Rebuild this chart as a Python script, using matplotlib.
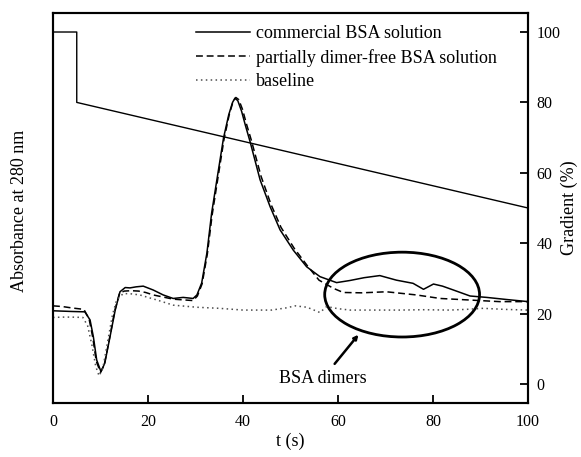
import matplotlib
matplotlib.use("Agg")
import matplotlib.pyplot as plt
from matplotlib.patches import Ellipse

plt.rcParams["font.family"] = ["Liberation Serif", "DejaVu Serif"]
plt.rcParams["font.size"] = 13

# absorbance traces (arbitrary units, plotted on the same scale as the gradient axis)
t_com = [0, 2, 4, 6.7, 7.8, 8.5, 9.2, 10.1, 10.9, 12.0, 13.1, 14.1, 15.2, 16.2, 17.5, 19.0,
         21.1, 23.2, 25.3, 27.4, 29.5, 30.3, 31.3, 32.4, 33.4, 34.5, 35.9, 37.0, 37.8, 38.3,
         38.9, 39.7, 40.5, 41.5, 43.6, 45.7, 47.8, 50.6, 53.4, 56.2, 59.7, 62.5, 65.5, 68.8,
         72.3, 75.8, 78.0, 80.1, 82.0, 84.3, 87.8, 91.3, 95.5, 100]
a_com = [20.8, 20.7, 20.6, 20.5, 18.2, 13.4, 6.8, 3.5, 5.9, 13.4, 21.0, 26.2, 27.4, 27.3, 27.6, 27.8,
         26.7, 25.3, 24.3, 24.6, 24.3, 25.3, 28.7, 37.2, 48.6, 58.0, 69.9, 76.5, 80.0, 81.2,
         80.5, 77.5, 73.5, 68.8, 58.0, 50.4, 43.8, 38.0, 33.3, 30.5, 28.8, 29.4, 30.2, 30.8,
         29.5, 28.6, 26.9, 28.4, 27.8, 26.7, 25.0, 24.6, 24.0, 23.4]

t_free = [0, 2, 4, 6.5, 7.6, 8.4, 9.1, 10.0, 10.8, 11.9, 13.0, 14.0, 15.0, 16.5, 18.0, 19.5,
          21.1, 23.2, 25.3, 27.4, 29.5, 30.4, 31.4, 32.5, 33.5, 34.6, 36.0, 37.1, 37.9, 38.5,
          39.1, 39.9, 40.7, 41.7, 43.8, 45.9, 48.0, 50.8, 53.6, 56.0, 59.0, 61.1, 65.0, 70.2,
          76.5, 81.5, 87.1, 94.0, 100]
a_free = [22.2, 22.0, 21.6, 21.2, 18.5, 13.0, 6.5, 3.3, 5.5, 13.0, 20.8, 25.8, 26.4, 26.5, 26.4, 26.0,
          25.3, 24.7, 24.1, 23.9, 23.7, 25.0, 28.5, 37.0, 48.0, 57.5, 69.5, 76.5, 80.2, 81.4,
          80.8, 78.0, 74.0, 69.5, 59.0, 51.0, 44.5, 38.5, 33.5, 29.5, 27.2, 26.0, 25.9, 26.2,
          25.3, 24.3, 23.9, 23.4, 23.4]

t_base = [0, 2, 4, 6.3, 7.3, 8.2, 9.0, 9.7, 10.5, 11.5, 12.5, 13.4, 14.8, 16.5, 18.3, 20.0,
          21.8, 25.3, 30.3, 35.0, 40.0, 46.0, 49.0, 51.0, 53.5, 56.2, 57.6, 60.0, 62.5, 68.0,
          73.0, 78.0, 83.5, 87.0, 90.6, 95.0, 100]
a_base = [18.9, 19.0, 19.0, 18.9, 16.5, 11.0, 5.0, 2.3, 4.5, 12.0, 19.5, 23.9, 25.7, 25.6, 25.3, 24.6,
          23.9, 22.4, 21.8, 21.5, 21.0, 21.0, 21.6, 22.2, 21.8, 20.3, 22.0, 21.4, 21.0, 21.0,
          21.0, 21.1, 21.0, 21.2, 21.5, 21.2, 21.0]

# gradient programme (%)
t_grad = [0, 5, 5, 100]
g_grad = [100, 100, 80, 50]

W, H = 581, 457
fig = plt.figure(figsize=(W / 100, H / 100), dpi=100)
ax = fig.add_axes([53 / W, 54 / H, 475 / W, 390 / H])
ax2 = ax.twinx()

ylim = (-5.4, 105.4)
ax.set_xlim(0, 100)
ax.set_ylim(*ylim)
ax2.set_ylim(*ylim)

h1, = ax.plot(t_com, a_com, color="black", lw=1.1, ls="-", label="commercial BSA solution")
h2, = ax.plot(t_free, a_free, color="black", lw=1.1, ls=(0, (4.5, 2.5)),
              label="partially dimer-free BSA solution")
h3, = ax.plot(t_base, a_base, color="0.3", lw=1.1, ls=(0, (1, 2.2)), label="baseline")
ax2.plot(t_grad, g_grad, color="black", lw=1.0)

# highlight the dimer region
ell = Ellipse((73.5, 25.4), 32.6, 24.1, fill=False, lw=2.0, ec="black")
ax.add_patch(ell)
ax.annotate("BSA dimers", xy=(64.3, 14.0), xytext=(56.8, 1.6),
            ha="center", va="center", fontsize=13,
            arrowprops=dict(arrowstyle="-|>", lw=1.8, color="black",
                            mutation_scale=6, shrinkA=3, shrinkB=0))

ax.set_xticks([0, 20, 40, 60, 80, 100])
ax.tick_params(axis="x", direction="in", length=6, width=1.3, pad=8, labelsize=11.5)
ax.set_yticks([])
ax2.set_yticks([0, 20, 40, 60, 80, 100])
ax2.tick_params(axis="y", direction="in", length=6, width=1.3, pad=6, labelsize=11.5)
for a in (ax, ax2):
    for s in a.spines.values():
        s.set_linewidth(1.5)

fig.text(290 / W, 1 - 441 / H, "t (s)", ha="center", va="center")
fig.text(20 / W, 1 - 211 / H, "Absorbance at 280 nm", rotation=90, ha="center", va="center")
fig.text(569 / W, 1 - 208 / H, "Gradient (%)", rotation=90, ha="center", va="center")

ax.legend(handles=[h1, h2, h3], loc="upper left", bbox_to_anchor=(0.301, 0.968),
          frameon=False, handlelength=3.0, handletextpad=0.33, labelspacing=0.35,
          borderpad=0, borderaxespad=0)

fig.savefig("out.png", dpi=100)
